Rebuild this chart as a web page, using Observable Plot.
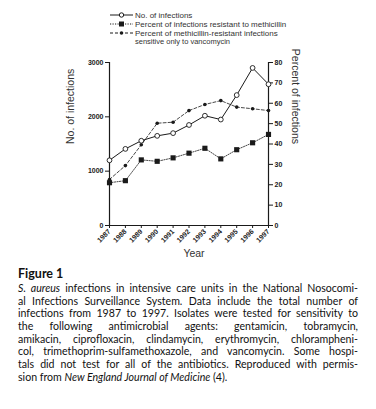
<!DOCTYPE html>
<html><head><meta charset="utf-8">
<script src="https://cdn.jsdelivr.net/npm/d3@7"></script>
<script src="https://cdn.jsdelivr.net/npm/@observablehq/plot@0.6"></script>
<style>
html,body{margin:0;padding:0;background:#fff}
body{width:376px;height:409px;overflow:hidden;font-family:"Liberation Sans",Arial,sans-serif;color:#222}
#legend{height:48px;position:relative}
#chart{height:215px}
#chart svg{display:block}
#caption{padding:4px 18px 0 18px;font-family:Lato,"Open Sans",sans-serif;color:#111}
#caption .fig{font-weight:bold;font-size:12.5px;line-height:13px;margin-bottom:2px}
#caption .ln{font-size:10.6px;line-height:12.7px;text-align:justify;text-align-last:justify;white-space:nowrap;height:12.7px}
#caption .ln.last{text-align-last:left}
</style></head><body>
<div id="legend"></div>
<div id="chart"></div>
<div id="caption"></div>
<script>
const years = [1987,1988,1989,1990,1991,1992,1993,1994,1995,1996,1997];
const infections = [1200,1410,1560,1650,1700,1850,2020,1950,2400,2900,2600];
const pctMethicillin = [21,22,32.2,31.5,33.2,35.5,37.9,32.7,37.2,40.6,44.7];
const pctVancomycinOnly = [22.6,29.4,39.6,50.2,50.7,56.4,59.4,61.3,58.1,57.3,56.4];
const leftTicks = [0,1000,2000,3000];
const rightTicks = [0,10,20,30,40,50,60,70,80];
const seriesNames = ["No. of infections","Percent of infections resistant to methicillin","Percent of methicillin-resistant infections","sensitive  only to vancomycin"];
const captionLines = [
 "<i>S. aureus</i> infections in intensive care units in the National Nosocomi-",
 "al Infections Surveillance System. Data include the total number of",
 "infections from 1987 to 1997. Isolates were tested for sensitivity to",
 "the following antimicrobial agents: gentamicin, tobramycin,",
 "amikacin, ciprofloxacin, clindamycin, erythromycin, chlorampheni-",
 "col, trimethoprim-sulfamethoxazole, and vancomycin. Some hospi-",
 "tals did not test for all of the antibiotics. Reproduced with permis-",
 "sion from <i>New England Journal of Medicine</i> (4)."
];

const k = 3000/80;
const rows = years.map((y,i)=>({year:y, inf:infections[i], m:pctMethicillin[i]*k, v:pctVancomycinOnly[i]*k}));
const ink = "#1a1a1a";

const plot = Plot.plot({
  width:376, height:215,
  marginLeft:109, marginRight:108, marginTop:14, marginBottom:38,
  x:{domain:[1987,1997]},
  y:{domain:[0,3000]},
  style:{fontFamily:"Liberation Sans, Arial, sans-serif", fontSize:"7px", color:ink, background:"white"},
  marks:[
    Plot.axisY({ticks:leftTicks, anchor:"left", tickSize:4, tickPadding:2, tickFormat:d=>String(d), label:null, fontWeight:"bold"}),
    Plot.axisY({ticks:rightTicks.map(d=>d*k), anchor:"right", tickSize:4, tickPadding:2, tickFormat:d=>String(Math.round(d/k)), label:null, fontWeight:"bold"}),
    Plot.axisX({ticks:years, anchor:"bottom", tickSize:3, tickPadding:2, tickRotate:-45, tickFormat:d=>String(d), label:null, fontWeight:"bold"}),
    Plot.ruleX([1987],{stroke:ink, strokeWidth:1.2}),
    Plot.ruleX([1997],{stroke:ink, strokeWidth:1.2}),
    Plot.ruleY([0],{stroke:ink, strokeWidth:1.2}),
    Plot.line(rows,{x:"year", y:"v", stroke:"#333", strokeWidth:0.9, strokeDasharray:"3,2"}),
    Plot.dot(rows,{x:"year", y:"v", r:1.8, fill:ink, stroke:"none"}),
    Plot.line(rows,{x:"year", y:"m", stroke:"#333", strokeWidth:0.9, strokeDasharray:"1.2,1.3"}),
    Plot.dot(rows,{x:"year", y:"m", symbol:"square", r:2.9, fill:ink, stroke:"none"}),
    Plot.line(rows,{x:"year", y:"inf", stroke:ink, strokeWidth:1}),
    Plot.dot(rows,{x:"year", y:"inf", r:2.4, fill:"white", stroke:ink, strokeWidth:0.9}),
    Plot.text(["No. of infections"],{frameAnchor:"left", rotate:-90, dx:-39, fontSize:10.5, fill:"#333"}),
    Plot.text(["Percent of infections"],{frameAnchor:"right", rotate:90, dx:27, fontSize:10.5, fill:"#333"}),
    Plot.text(["Year"],{frameAnchor:"bottom", dy:31, dx:5, fontSize:10.5, fill:"#333"})
  ]
});
document.getElementById("chart").appendChild(plot);

// legend
const lg = d3.select("#legend").append("svg").attr("width",376).attr("height",48)
  .style("font-family","Liberation Sans, Arial, sans-serif");
const items = [
  {y:15, dash:null, sym:"circle"},
  {y:24, dash:"1.2,1.3", sym:"square"},
  {y:33, dash:"3,2", sym:"dot"}
];
items.forEach((it,i)=>{
  lg.append("line").attr("x1",110).attr("x2",133).attr("y1",it.y).attr("y2",it.y)
    .attr("stroke",ink).attr("stroke-width",1).attr("stroke-dasharray",it.dash);
  if(it.sym==="circle") lg.append("circle").attr("cx",121.5).attr("cy",it.y).attr("r",2.2).attr("fill","white").attr("stroke",ink);
  if(it.sym==="square") lg.append("rect").attr("x",119).attr("y",it.y-2.5).attr("width",5).attr("height",5).attr("fill",ink);
  if(it.sym==="dot") lg.append("circle").attr("cx",121.5).attr("cy",it.y).attr("r",1.8).attr("fill",ink);
  lg.append("text").attr("x",135).attr("y",it.y).attr("dy","0.35em").attr("font-size",8).attr("fill","#333").text(seriesNames[i]);
});
lg.append("text").attr("x",135).attr("y",41).attr("dy","0.35em").attr("font-size",7.5).attr("fill","#333").text(seriesNames[3]);

// caption
const cap = d3.select("#caption");
cap.append("div").attr("class","fig").text("Figure 1");
captionLines.forEach((t,i)=>{
  cap.append("div").attr("class","ln"+(i===captionLines.length-1?" last":"")).html(t);
});
</script>
</body></html>
